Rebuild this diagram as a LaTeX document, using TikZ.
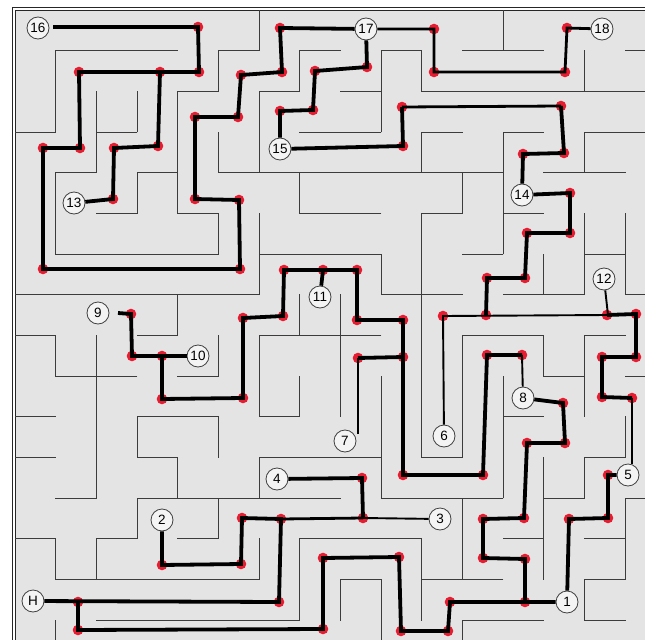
\documentclass[tikz,border=0pt]{standalone}
\usepackage{fontspec}
\setmainfont{Liberation Sans}
\definecolor{bg}{RGB}{228,228,228}
\definecolor{wall}{RGB}{60,60,60}
\definecolor{dotred}{RGB}{232,28,48}
\definecolor{circfill}{RGB}{244,244,244}
\begin{document}
\begin{tikzpicture}[x=1pt,y=-1pt,
  wl/.style={draw=wall, line width=0.9pt, line cap=rect},
  pthick/.style={draw=black, line width=3.8pt, line join=miter},
  pmid/.style={draw=black, line width=2.8pt, line join=miter},
  pthin/.style={draw=black, line width=1.9pt},
  num/.style={circle, draw=black!75, fill=circfill, line width=0.8pt, minimum size=22pt, inner sep=0pt, font=\fontsize{13.5}{14}\selectfont},
  rdot/.style={fill=dotred}
]
\useasboundingbox (0,0) rectangle (651,640);
\fill[white] (0,0) rectangle (651,640);
\fill[bg] (15,10) rectangle (645,640);
\draw[black!85, line width=0.9pt] (12.5,640) -- (12.5,7.5) -- (645,7.5);
\draw[black!85, line width=0.9pt] (15,640) -- (15,10) -- (645,10);

% maze walls
\begin{scope}[xshift=15pt, yshift=-10pt, x=40.67pt, y=-40.67pt]
\def\E{15.49}
\def\B{15.49}
% horizontal walls
\draw[wl] (1,1)--(4,1) (5,1)--(6,1) (7,1)--(8,1) (9,1)--(10,1) (11,1)--(13,1) (15,1)--(\E,1);
\draw[wl] (4,2)--(5,2) (6,2)--(7,2) (8,2)--(9,2) (10,2)--(\E,2);
\draw[wl] (0,3)--(1,3) (2,3)--(3,3) (7,3)--(9,3) (10,3)--(11,3) (12,3)--(13,3) (14,3)--(\E,3);
\draw[wl] (1,4)--(2,4) (3,4)--(4,4) (5,4)--(12,4) (13,4)--(15,4);
\draw[wl] (2,5)--(3,5) (4,5)--(5,5) (7,5)--(9,5) (10,5)--(11,5) (12,5)--(13,5);
\draw[wl] (1,6)--(5,6) (6,6)--(9,6) (11,6)--(12,6) (14,6)--(15,6);
\draw[wl] (0,7)--(6,7) (9,7)--(11,7) (12,7)--(14,7) (15,7)--(\E,7);
\draw[wl] (0,8)--(1,8) (3,8)--(4,8) (6,8)--(9,8) (11,8)--(13,8) (14,8)--(15,8);
\draw[wl] (1,9)--(3,9) (4,9)--(5,9) (13,9)--(14,9) (15,9)--(\E,9);
\draw[wl] (0,10)--(1,10) (3,10)--(5,10) (6,10)--(7,10) (12,10)--(13,10);
\draw[wl] (0,11)--(1,11) (3,11)--(4,11) (6,11)--(9,11) (10,11)--(11,11) (14,11)--(15,11);
\draw[wl] (1,12)--(2,12) (3,12)--(8,12) (9,12)--(12,12) (13,12)--(14,12) (15,12)--(\E,12);
\draw[wl] (0,13)--(1,13) (2,13)--(3,13) (4,13)--(5,13) (7,13)--(10,13) (12,13)--(13,13) (14,13)--(15,13);
\draw[wl] (1,14)--(6,14) (8,14)--(9,14) (10,14)--(12,14) (14,14)--(15,14);
\draw[wl] (2,15)--(7,15) (11,15)--(13,15) (14,15)--(15,15);
% vertical walls
\draw[wl] (6,0)--(6,1) (12,0)--(12,1);
\draw[wl] (1,1)--(1,3) (5,1)--(5,2) (7,1)--(7,2) (9,1)--(9,3) (10,1)--(10,2) (14,1)--(14,2);
\draw[wl] (2,2)--(2,4) (3,2)--(3,3) (4,2)--(4,5) (6,2)--(6,4);
\draw[wl] (5,3)--(5,4) (10,3)--(10,4) (12,3)--(12,6) (14,3)--(14,4);
\draw[wl] (1,4)--(1,6) (3,4)--(3,5) (7,4)--(7,5) (11,4)--(11,5);
\draw[wl] (5,5)--(5,6) (6,5)--(6,7) (10,5)--(10,11) (14,5)--(14,7) (15,5)--(15,7);
\draw[wl] (9,6)--(9,7) (13,6)--(13,7);
\draw[wl] (4,7)--(4,8) (7,7)--(7,8) (8,7)--(8,10);
\draw[wl] (1,8)--(1,9) (2,8)--(2,12) (5,8)--(5,9) (6,8)--(6,10) (11,8)--(11,11) (13,8)--(13,9) (14,8)--(14,10);
\draw[wl] (7,9)--(7,10) (9,9)--(9,12) (12,9)--(12,12);
\draw[wl] (3,10)--(3,11) (5,10)--(5,11) (15,10)--(15,11);
\draw[wl] (4,11)--(4,12) (6,11)--(6,12) (13,11)--(13,14) (14,11)--(14,12);
\draw[wl] (3,12)--(3,13) (5,12)--(5,13) (11,12)--(11,14) (15,12)--(15,14);
\draw[wl] (1,13)--(1,14) (2,13)--(2,14) (6,13)--(6,14) (7,13)--(7,15) (10,13)--(10,15);
\draw[wl] (8,14)--(8,15) (9,14)--(9,\B) (14,14)--(14,15);
\draw[wl] (1,15)--(1,\B) (11,15)--(11,\B);
\end{scope}

% red dots
\foreach \p in {(198,27),(199,72),(160,72),(79,72),(80,148),(43,148),(43,269),(240,269),(239,200),(195,199),(195,117),(238,117),(241,75),(282,72),(280,28),
(158,146),(114,148),(113,199),
(367,67),(315,71),(313,110),(280,111),
(403,146),(402,107),(561,106),(564,153),(523,154),
(570,193),(570,233),(527,233),(525,278),(487,278),(486,315),
(434,29),(434,72),(565,72),(567,28),
(443,316),(607,315),(636,314),(636,357),(602,357),(602,397),(632,398),
(487,355),(522,355),(483,475),(403,475),(403,320),(357,320),(357,270),(323,270),(284,270),(283,316),(243,318),(243,398),(162,399),(162,356),(132,356),(131,314),
(358,358),(403,357),
(563,403),(565,443),(527,443),(524,518),(483,519),(483,558),(525,559),(525,602),(450,602),(448,631),(401,631),(399,557),(323,558),(323,629),(78,630),(78,602),(279,602),(281,519),(242,518),(241,564),(162,565),(363,518),(362,478),
(569,519),(608,518),(608,475)}
  \fill[rdot] \p circle (5.3);

% numbered circles
\node[num] (c16) at (38,28) {16};
\node[num] (c17) at (366,29) {17};
\node[num] (c18) at (602,29) {18};
\node[num] (c15) at (280,149) {15};
\node[num] (c14) at (522,195) {14};
\node[num] (c13) at (74,203) {13};
\node[num] (c12) at (604,279) {12};
\node[num] (c11) at (320,297) {11};
\node[num] (c9) at (98,313) {9};
\node[num] (c10) at (198,356) {10};
\node[num] (c8) at (523,398) {8};
\node[num] (c7) at (345,441) {7};
\node[num] (c6) at (444,436) {6};
\node[num] (c5) at (628,475) {5};
\node[num] (c4) at (277,479) {4};
\node[num] (c3) at (440,519) {3};
\node[num] (c2) at (162,520) {2};
\node[num] (c1) at (567,602) {1};
\node[num] (cH) at (33,601) {H};
\coordinate (e7) at (358,434);
\coordinate (e5) at (632,464);
\coordinate (e16) at (53,27);

% solution paths
\draw[pthick] (e16) -- (198,27) -- (199,72) -- (79,72) -- (80,148) -- (43,148) -- (43,269) -- (240,269) -- (239,200) -- (195,199) -- (195,117) -- (238,117) -- (241,75) -- (282,72) -- (280,28) -- (c17);
\draw[pthick] (160,72) -- (158,146) -- (114,148) -- (113,199) -- (c13);
\draw[pthick] (c17) -- (367,67) -- (315,71) -- (313,110) -- (280,111) -- (c15);
\draw[pthick] (c15) -- (403,146) -- (402,107);
\draw[pmid] (402,107) -- (561,106);
\draw[pthick] (561,106) -- (564,153) -- (523,154) -- (c14);
\draw[pthick] (c14) -- (570,193) -- (570,233) -- (527,233) -- (525,278) -- (487,278) -- (486,315);
\draw[pmid] (c17) -- (434,29) -- (434,72) -- (565,72) -- (567,28) -- (c18);
\draw[pthin] (c6) -- (443,316) -- (607,315);
\draw[pthin] (c12) -- (608,315);
\draw[pthick] (607,315) -- (636,314) -- (636,357) -- (602,357) -- (602,397) -- (632,398);
\draw[pthin] (632,398) -- (e5);
\draw[pthin] (c8) -- (522,355);
\draw[pthick] (522,355) -- (487,355) -- (483,475) -- (403,475) -- (403,320) -- (357,320) -- (357,270) -- (284,270) -- (283,316) -- (243,318) -- (243,398) -- (162,399) -- (162,356) -- (132,356) -- (131,314) -- (118,313);
\draw[pthick] (132,356) -- (c10);
\draw[pthick] (323,270) -- (c11);
\draw[pthin] (e7) -- (358,358);
\draw[pthick] (358,358) -- (403,357);
\draw[pthick] (c8) -- (563,403) -- (565,443) -- (527,443) -- (524,518) -- (483,519) -- (483,558) -- (525,559) -- (525,602) -- (c1);
\draw[pthick] (525,602) -- (450,602) -- (448,631) -- (401,631) -- (399,557) -- (323,558) -- (323,629) -- (78,630) -- (78,602);
\draw[pthick] (cH) -- (279,602) -- (281,519) -- (242,518) -- (241,564) -- (162,565) -- (c2);
\draw[pmid] (281,519) -- (363,518);
\draw[pthin] (363,518) -- (c3);
\draw[pthick] (363,518) -- (362,478) -- (c4);
\draw[pthick] (c1) -- (569,519) -- (608,518) -- (608,475) -- (c5);
\end{tikzpicture}
\end{document}
